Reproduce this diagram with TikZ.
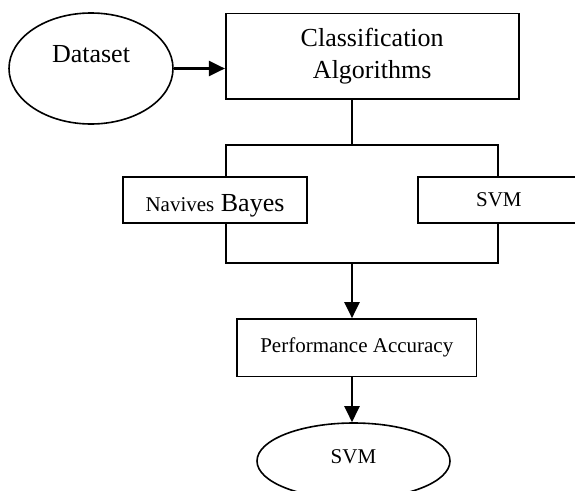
\documentclass[tikz,border=0pt]{standalone}
\usepackage{fontspec}
\setmainfont{Liberation Serif}
\usetikzlibrary{arrows.meta,shapes.geometric}

\newcommand{\bigsize}{\fontsize{26}{32}\selectfont}
\newcommand{\smallsize}{\fontsize{21}{25}\selectfont}

\tikzset{
  stage/.style={draw, fill=white, line width=1.6pt, inner sep=0pt, font=\smallsize},
  oval/.style={ellipse, draw, fill=white, line width=1.6pt, inner sep=0pt, font=\smallsize},
  flow/.style={line width=2.2pt, -{Triangle[length=16pt,width=15pt]}},
  link/.style={line width=1.6pt},
}

\begin{document}
\begin{tikzpicture}[x=1pt,y=-1pt]
\clip (0,0) rectangle (575,490);
\fill[white] (0,0) rectangle (575,490);

% frame that holds both classifiers
\coordinate (frameNW) at (225.7,145);
\coordinate (frameSE) at (497.7,262.7);
\coordinate (fork) at (352,145);
\coordinate (join) at (352,262.7);
\draw[link] (frameNW) rectangle (frameSE);

\node[oval, minimum width=164pt, minimum height=111pt, font=\bigsize, text depth=28.8pt] (data) at (91,68.5) {Dataset};
\node[stage, minimum width=293pt, minimum height=85.7pt, font=\bigsize, align=center] (algo) at (372.2,56.2) {Classification\\Algorithms};

\node[stage, minimum width=184pt, minimum height=46pt, font=\bigsize, text height=24pt, text depth=0pt] (bayes) at (215,199.7) {{\smallsize Navives} Bayes};
\node[stage, minimum width=162.3pt, minimum height=46pt] (svm) at (498.9,199.7) {SVM};

\node[stage, minimum width=239.7pt, minimum height=57.7pt] (perf) at (356.8,347.8) {Performance Accuracy};
\node[oval, minimum width=193pt, minimum height=76pt, text depth=9pt] (result) at (353.5,461) {SVM};

\draw[flow] (data.east) -- (data.east -| algo.west);
\draw[link] (fork |- algo.south) -- (fork);
\draw[flow] (join) -- (join |- perf.north);
\draw[flow] (join |- perf.south) -- (join |- result.north);
\end{tikzpicture}
\end{document}
